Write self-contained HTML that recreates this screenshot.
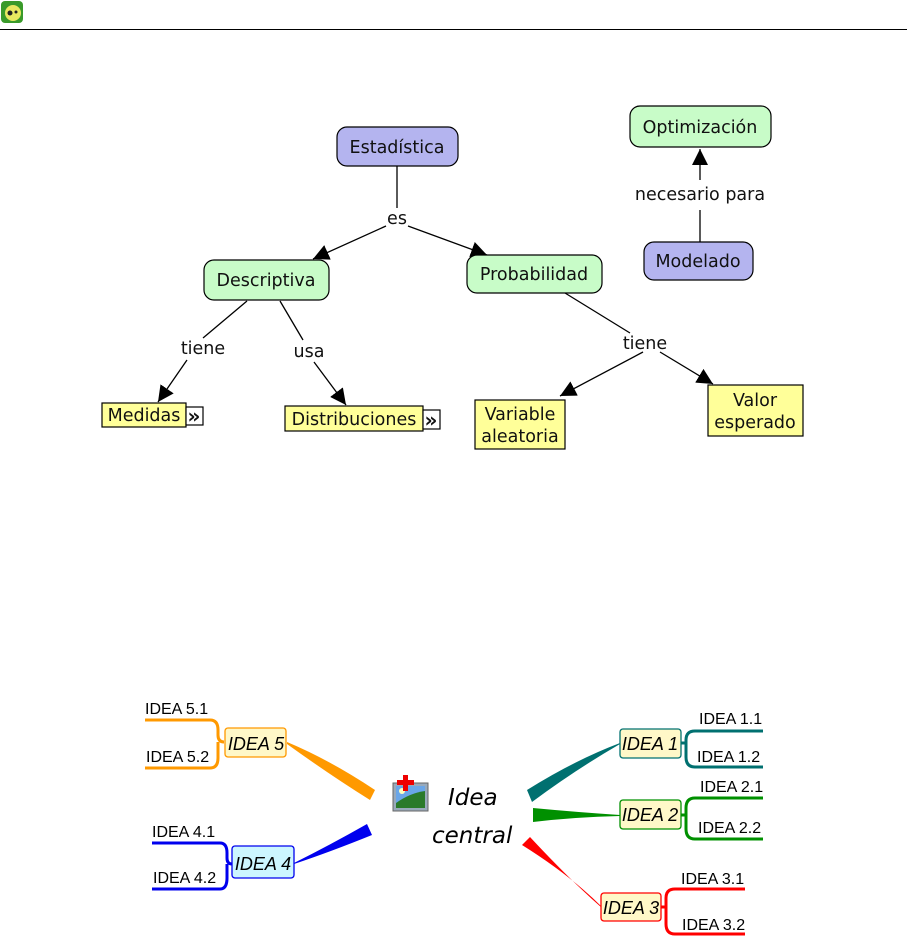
<!DOCTYPE html>
<html><head><meta charset="utf-8"><style>
html,body{margin:0;padding:0;background:#fff;width:907px;height:945px;overflow:hidden}
svg{display:block}
.v{font-family:"DejaVu Sans",sans-serif;font-size:17.5px;fill:#111}
.a{font-family:"Liberation Sans",sans-serif;font-size:16px;fill:#000}
.i{font-family:"Liberation Sans",sans-serif;font-size:18px;font-style:italic;fill:#000}
.h{font-family:"DejaVu Sans",cursive;font-size:23px;font-style:italic;fill:#000}
</style></head><body>
<svg width="907" height="945" viewBox="0 0 907 945" xmlns="http://www.w3.org/2000/svg">
<defs>
<marker id="ab" viewBox="0 0 10 10" markerWidth="16" markerHeight="16" refX="10" refY="5" orient="auto" markerUnits="userSpaceOnUse"><path d="M0,0 L10,5 L0,10 Z" fill="#000"/></marker></defs>
<!-- header -->
<rect x="1" y="1" width="22" height="22" rx="4" fill="#3a9a2a"/>
<circle cx="13" cy="13" r="8" fill="#e8e860"/>
<circle cx="10" cy="13" r="2.5" fill="#222"/><circle cx="16" cy="12" r="1.5" fill="#222"/>
<line x1="0" y1="29.5" x2="907" y2="29.5" stroke="#000" stroke-width="1"/>
<!-- concept map lines -->
<g stroke="#000" stroke-width="1.3" fill="none">
<line x1="397" y1="166" x2="397" y2="208"/>
<line x1="386" y1="226" x2="313" y2="259" marker-end="url(#ab)"/>
<line x1="408" y1="226" x2="487" y2="255" marker-end="url(#ab)"/>
<line x1="247" y1="301" x2="203" y2="338"/>
<line x1="187" y1="360" x2="158" y2="402" marker-end="url(#ab)"/>
<line x1="280" y1="301" x2="303" y2="340"/>
<line x1="314" y1="362" x2="346" y2="405" marker-end="url(#ab)"/>
<line x1="565" y1="293" x2="630" y2="333"/>
<line x1="643" y1="352" x2="560" y2="396" marker-end="url(#ab)"/>
<line x1="660" y1="352" x2="713" y2="384" marker-end="url(#ab)"/>
<line x1="700" y1="242" x2="700" y2="210"/>
<line x1="700" y1="180" x2="700" y2="149" marker-end="url(#ab)"/>
</g>
<g stroke="#000" stroke-width="1.2">
<rect x="337" y="127" width="121" height="39" rx="10" fill="#b4b4ef"/>
<rect x="204" y="260" width="125" height="40" rx="10" fill="#c8fcc8"/>
<rect x="467" y="255" width="135" height="38" rx="10" fill="#c8fcc8"/>
<rect x="630" y="106" width="141" height="41" rx="10" fill="#c8fcc8"/>
<rect x="644" y="242" width="109" height="38" rx="10" fill="#b4b4ef"/>
<rect x="102" y="403" width="84" height="24" fill="#ffff99"/>
<rect x="186" y="407" width="17" height="18" fill="#fff"/>
<rect x="285" y="406" width="138" height="25" fill="#ffff99"/>
<rect x="423" y="410" width="17" height="19" fill="#fff"/>
<rect x="475" y="400" width="90" height="49" fill="#ffff99"/>
<rect x="708" y="385" width="95" height="51" fill="#ffff99"/>
</g>
<g class="v" text-anchor="middle">
<text x="397" y="153">Estadística</text>
<text x="266" y="286">Descriptiva</text>
<text x="534" y="280">Probabilidad</text>
<text x="700" y="133">Optimización</text>
<text x="698" y="267">Modelado</text>
<text x="144" y="421">Medidas</text>
<text x="194" y="423" style="font-weight:bold;font-size:20px">»</text>
<text x="354" y="425">Distribuciones</text>
<text x="431" y="427" style="font-weight:bold;font-size:20px">»</text>
<text x="520" y="420">Variable</text>
<text x="520" y="442">aleatoria</text>
<text x="755" y="406">Valor</text>
<text x="755" y="428">esperado</text>
<text x="397" y="224">es</text>
<text x="203" y="354">tiene</text>
<text x="309" y="357">usa</text>
<text x="645" y="349">tiene</text>
<text x="700" y="200">necesario para</text>
</g>
<!-- mind map -->
<path d="M287,742 Q330,760 375,790 L370,800 Q330,775 287,744 Z" fill="#f90"/>
<path d="M294,863 Q330,845 367,824 L372,835 Q330,852 294,864 Z" fill="#0000ee"/>
<path d="M620,743 Q575,760 527,790 L532,802 Q575,770 620,744 Z" fill="#007070"/>
<path d="M620,815 Q575,812 533,808 L533,822 Q575,817 620,816 Z" fill="#009000"/>
<path d="M602,907 Q570,875 522,845 L530,837 Q570,880 602,908 Z" fill="#f00"/>
<g fill="none" stroke-width="3">
<path d="M145,720 H210 Q218,720 218,730 V735 Q218,742 224,742 M218,742 Q218,742 218,750 V758 Q218,768 210,768 H145" stroke="#f90"/>
<path d="M152,843 H220 Q227,843 227,853 V858 Q227,864 232,864 M227,864 V878 Q227,889 220,889 H152" stroke="#0000ee"/>
<path d="M763,731 H695 Q686,731 686,740 V743 Q686,743 681,743 M686,743 V757 Q686,767 695,767 H763" stroke="#007070"/>
<path d="M763,798 H695 Q686,798 686,808 V815 Q686,815 681,815 M686,815 V829 Q686,839 695,839 H763" stroke="#009000"/>
<path d="M745,889 H675 Q666,889 666,898 V907 Q666,907 661,907 M666,907 V924 Q666,934 675,934 H745" stroke="#f00"/>
</g>
<g stroke-width="1.3">
<rect x="225" y="728" width="61" height="29" rx="3" fill="#fff8c8" stroke="#f90"/>
<rect x="232" y="846" width="62" height="32" rx="3" fill="#ccf6ff" stroke="#0000ee"/>
<rect x="620" y="729" width="61" height="29" rx="3" fill="#fff8c8" stroke="#007070"/>
<rect x="620" y="800" width="61" height="29" rx="3" fill="#fff8c8" stroke="#009000"/>
<rect x="601" y="893" width="60" height="28" rx="3" fill="#fff8c8" stroke="#f00"/>
</g>
<g class="i" text-anchor="middle">
<text x="256" y="750">IDEA 5</text>
<text x="263" y="870">IDEA 4</text>
<text x="650" y="750">IDEA 1</text>
<text x="650" y="821">IDEA 2</text>
<text x="631" y="914">IDEA 3</text>
</g>
<g class="a">
<text x="145" y="714">IDEA 5.1</text>
<text x="146" y="762">IDEA 5.2</text>
<text x="152" y="837">IDEA 4.1</text>
<text x="153" y="883">IDEA 4.2</text>
<text x="699" y="724">IDEA 1.1</text>
<text x="697" y="762">IDEA 1.2</text>
<text x="700" y="792">IDEA 2.1</text>
<text x="698" y="833">IDEA 2.2</text>
<text x="681" y="884">IDEA 3.1</text>
<text x="682" y="930">IDEA 3.2</text>
</g>
<!-- image icon -->
<rect x="393" y="783" width="35" height="28" fill="#9ab" stroke="#666"/>
<rect x="396" y="786" width="29" height="22" fill="#6aa6e8"/>
<path d="M396,803 Q410,793 425,791 V808 H396 Z" fill="#2a7a2a"/>
<circle cx="402" cy="791" r="3" fill="#ffffc0"/>
<rect x="403" y="775" width="5" height="16" fill="#e00"/><rect x="397" y="780" width="17" height="5" fill="#e00"/>
<text class="h" x="448" y="805">Idea</text>
<text class="h" x="432" y="843">central</text>
</svg>
</body></html>
